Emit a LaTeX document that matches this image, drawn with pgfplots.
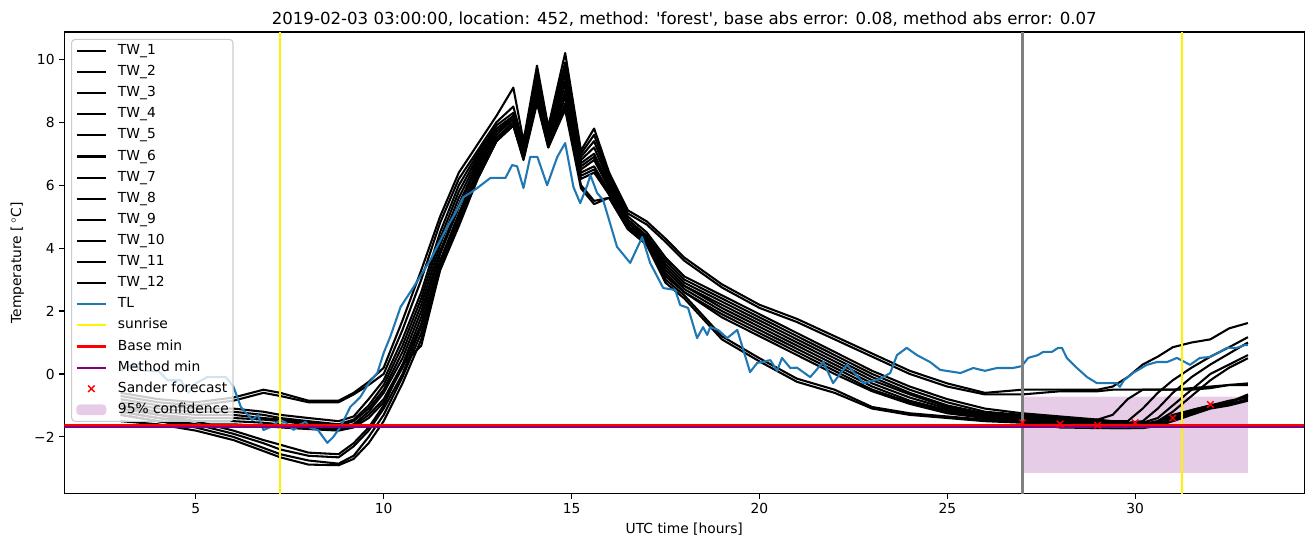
\documentclass[border=0pt]{standalone}
\usepackage{fontspec}
\setmainfont{DejaVu Sans}
\newfontfamily\dejavu{DejaVu Sans}
\usepackage{pgfplots}
\usepackage{pgfplotstable}
\pgfplotsset{compat=1.18}
\definecolor{tlblue}{RGB}{31,119,180}
\definecolor{mplpurple}{RGB}{128,0,128}
\definecolor{fillpurple}{RGB}{230,204,230}
\definecolor{legedge}{RGB}{204,204,204}
\definecolor{mplgrey}{RGB}{128,128,128}

\pgfplotstableread{
x     t1    t2    t3    t4    t5    t6    t7    t8    t9    t10   t11   t12
3     -0.6  -0.7  -0.8  -0.9  -1.0  -1.1  -1.2  -1.3  -1.0  -1.2  -1.3  -1.5
4     -0.8  -0.9  -1.0  -1.1  -1.2  -1.3  -1.4  -1.5  -1.3  -1.4  -1.5  -1.6
5     -0.9  -1.0  -1.1  -1.2  -1.3  -1.4  -1.5  -1.6  -1.5  -1.6  -1.7  -1.8
6     -0.75 -0.85 -1.1  -1.2  -1.3  -1.4  -1.5  -1.6  -1.8  -1.9  -2.0  -2.1
6.8   -0.5  -0.6  -1.2  -1.3  -1.4  -1.45 -1.55 -1.65 -2.1  -2.2  -2.35 -2.45
7.25  -0.6  -0.7  -1.3  -1.4  -1.45 -1.5  -1.6  -1.7  -2.25 -2.4  -2.55 -2.65
8     -0.85 -0.9  -1.4  -1.5  -1.55 -1.6  -1.7  -1.75 -2.5  -2.6  -2.75 -2.88
8.8   -0.85 -0.9  -1.5  -1.6  -1.65 -1.7  -1.75 -1.8  -2.55 -2.65 -2.85 -2.9
9.2   -0.6  -0.65 -1.35 -1.45 -1.5  -1.6  -1.65 -1.7  -2.2  -2.3  -2.6  -2.7
9.6   -0.25 -0.35 -0.8  -1.0  -1.1  -1.2  -1.3  -1.4  -1.7  -1.8  -2.0  -2.2
10    0.2   0.0   -0.2  -0.35 -0.5  -0.6  -0.8  -0.9  -1.0  -1.1  -1.3  -1.5
10.5  1.7   1.4   1.1   0.9   0.7   0.5   0.3   0.2   0.3   0.0   -0.1  -0.3
11    3.3   3.0   2.6   2.4   2.2   2.0   1.8   1.6   0.9   1.5   1.3   1.1
11.5  5.0   4.8   4.5   4.3   4.1   3.9   3.8   3.6   3.3   3.5   3.4   3.3
12    6.4   6.2   6.0   5.8   5.6   5.4   5.3   5.1   4.8   5.0   4.9   4.7
12.5  7.3   7.1   7.0   6.9   6.8   6.7   6.6   6.5   6.2   6.4   6.3   6.2
13    8.2   8.0   7.9   7.8   7.7   7.7   7.6   7.5   7.4   7.5   7.4   7.4
13.45 9.1   8.5   8.3   8.2   8.2   8.1   8.1   8.0   7.9   8.0   7.9   7.9
13.72 7.4   7.3   7.2   7.1   7.0   7.0   6.95  6.9   6.85  6.9   6.85  6.8
14.08 9.8   9.6   9.4   9.3   9.2   9.1   9.0   8.9   8.8   8.8   8.7   8.6
14.38 7.85  7.8   7.7   7.6   7.5   7.5   7.4   7.4   7.3   7.3   7.2   7.2
14.83 10.2  9.9   9.7   9.5   9.3   9.2   9.0   8.9   8.8   8.6   8.5   8.4
15.25 7.1   7.0   6.9   6.8   6.7   6.6   6.5   6.4   6.3   6.2   6.0   5.9
15.6  7.8   7.6   7.4   7.2   7.0   6.9   6.8   6.6   6.5   6.4   5.5   5.4
16    6.4   6.3   6.2   6.1   6.0   5.95  5.9   5.8   5.7   5.7   5.6   5.6
16.5  5.2   5.1   5.0   4.9   4.9   4.8   4.8   4.7   4.7   4.65  4.6   4.6
17    4.85  4.75  4.5   4.4   4.35  4.3   4.3   4.25  4.2   4.2   4.15  4.1
17.5  4.3   4.2   3.7   3.6   3.5   3.4   3.4   3.3   3.2   3.1   3.0   2.9
18    3.7   3.6   3.1   3.0   2.9   2.8   2.8   2.7   2.6   2.6   2.5   2.4
19    2.85  2.75  2.5   2.4   2.3   2.2   2.1   2.0   1.9   1.8   1.2   1.1
20    2.2   2.1   1.9   1.8   1.7   1.6   1.5   1.4   1.3   1.2   0.5   0.4
21    1.75  1.65  1.3   1.2   1.1   1.0   0.9   0.8   0.7   0.6   -0.15 -0.25
22    1.2   1.1   0.7   0.6   0.5   0.4   0.3   0.2   0.1   0.0   -0.5  -0.6
23    0.65  0.55  0.1   0.0   -0.1  -0.2  -0.3  -0.4  -0.5  -0.55 -1.05 -1.1
24    0.1   0.0   -0.4  -0.5  -0.6  -0.65 -0.75 -0.85 -0.9  -0.95 -1.25 -1.3
25    -0.3  -0.4  -0.8  -0.9  -1.0  -1.05 -1.1  -1.15 -1.2  -1.25 -1.35 -1.4
26    -0.6  -0.65 -1.1  -1.2  -1.25 -1.3  -1.3  -1.35 -1.4  -1.4  -1.45 -1.5
27    -0.5  -0.65 -1.25 -1.3  -1.35 -1.4  -1.4  -1.45 -1.45 -1.5  -1.5  -1.55
28    -0.5  -0.55 -1.35 -1.4  -1.45 -1.5  -1.45 -1.5  -1.55 -1.6  -1.65 -1.7
29    -0.5  -0.55 -1.45 -1.5  -1.55 -1.55 -1.45 -1.55 -1.6  -1.65 -1.7  -1.72
29.4  -0.4  -0.5  -1.5  -1.55 -1.6  -1.6  -1.3  -1.6  -1.65 -1.7  -1.72 -1.72
29.8  -0.1  -0.5  -1.5  -1.55 -1.6  -1.6  -0.8  -1.6  -1.65 -1.7  -1.72 -1.72
30.2  0.3   -0.5  -1.1  -1.5  -1.55 -1.6  -0.5  -1.6  -1.6  -1.65 -1.7  -1.72
30.6  0.55  -0.5  -0.6  -1.1  -1.4  -1.5  -0.5  -1.5  -1.55 -1.55 -1.6  -1.65
31    0.85  -0.5  -0.2  -0.6  -1.0  -1.2  -0.5  -1.3  -1.4  -1.35 -1.45 -1.5
31.5  1.0   -0.5  0.2   -0.1  -0.5  -0.7  -0.45 -1.15 -1.2  -1.15 -1.25 -1.3
32    1.1   -0.45 0.55  0.3   0.0   -0.2  -0.4  -1.0  -1.05 -1.0  -1.05 -1.1
32.5  1.45  -0.35 0.85  0.65  0.3   0.2   -0.35 -0.9  -0.9  -0.85 -0.95 -1.0
33    1.62  -0.3  1.17  1.0   0.6   0.5   -0.35 -0.65 -0.7  -0.75 -0.8  -0.85
}\twdata

\pgfplotstableread{
x y
3.0 0.1
3.3 0.3
3.6 0.1
4.0 0.1
4.25 -0.2
4.6 -0.2
4.8 -0.6
5.0 -0.3
5.3 -0.1
5.8 -0.1
6.0 -0.4
6.2 -1.05
6.5 -1.46
6.65 -1.3
6.8 -1.78
7.0 -1.68
7.25 -1.46
7.4 -1.55
7.6 -1.78
7.75 -1.62
7.92 -1.52
8.05 -1.72
8.25 -1.78
8.5 -2.19
8.66 -2.0
8.85 -1.68
9.11 -1.05
9.38 -0.73
9.6 -0.3
9.83 0.03
10.0 0.67
10.18 1.2
10.45 2.13
10.8 2.77
11.24 3.62
11.69 4.67
11.9 5.1
12.12 5.62
12.3 5.75
12.49 5.91
12.84 6.23
13.24 6.23
13.42 6.64
13.55 6.6
13.72 5.91
13.9 6.9
14.09 6.9
14.35 6.0
14.62 6.9
14.83 7.34
15.05 5.94
15.23 5.43
15.42 6.0
15.5 6.32
15.68 5.75
15.84 5.53
16.21 4.04
16.56 3.53
16.88 4.35
17.09 3.53
17.44 2.73
17.76 2.67
17.89 2.19
18.10 2.1
18.34 1.14
18.50 1.49
18.61 1.24
18.69 1.49
18.9 1.4
19.14 1.14
19.41 1.4
19.75 0.06
19.94 0.35
20.29 0.44
20.47 0.1
20.60 0.51
20.82 0.19
21.0 0.2
21.35 -0.1
21.70 0.38
21.96 -0.29
22.33 0.29
22.77 -0.29
23.13 -0.19
23.29 -0.1
23.48 0.03
23.66 0.6
23.92 0.83
24.19 0.6
24.54 0.38
24.81 0.13
25.35 0.03
25.69 0.19
26.0 0.1
26.32 0.19
26.75 0.19
26.98 0.25
27.15 0.51
27.41 0.6
27.55 0.7
27.78 0.7
27.95 0.83
28.05 0.83
28.18 0.51
28.45 0.19
28.72 -0.1
28.98 -0.29
29.51 -0.29
29.59 -0.41
29.7 -0.2
29.94 0.03
30.31 0.29
30.58 0.38
30.85 0.38
31.11 0.51
31.46 0.29
31.72 0.51
31.99 0.54
32.25 0.7
32.44 0.83
32.70 0.83
32.92 0.92
33.0 0.92
}\tldata

\begin{document}
\begin{tikzpicture}
\useasboundingbox (-46.47pt,-38.3pt) rectangle (902.5pt,357.0pt);
\begin{axis}[
  scale only axis, width=896.2pt, height=333.9pt,
  xmin=1.5, xmax=34.5, ymin=-3.813, ymax=10.87,
  xtick={5,10,15,20,25,30}, xticklabels={5,10,15,20,25,30},
  ytick={-2,0,2,4,6,8,10}, yticklabels={−2,0,2,4,6,8,10},
  xtick pos=bottom, ytick pos=left, tick align=outside,
  major tick length=3.5pt,
  tick style={black, line width=0.8pt},
  axis line style={line width=0.8pt},
  ticklabel style={font=\fontsize{10}{12}\selectfont},
  title={\dejavu 2019-02-03 03:00:00, location: 452, method: 'forest', base abs error: 0.08, method abs error: 0.07},
  title style={at={(axis description cs:0.5,1)}, anchor=base, yshift=-0.5pt, inner sep=0pt, font=\fontsize{12}{14}\selectfont},
  xlabel={UTC time [hours]},
  xlabel style={at={(axis description cs:0.5,0)}, anchor=base, yshift=-28.9pt, inner sep=0pt, font=\fontsize{10}{12}\selectfont},
  ylabel={Temperature [\,$^\circ$C]},
  ylabel style={at={(axis description cs:-0.0349,0.5)}, anchor=base, inner sep=0pt, font=\fontsize{10}{12}\selectfont},
  legend image code/.code={\draw[mark repeat=2,mark phase=2,#1] plot coordinates {(0pt,0pt) (10.5pt,0pt) (21pt,0pt)};},
  legend cell align=left,
  legend style={at={(axis description cs:0,1)}, anchor=north west, xshift=4.9pt, yshift=-5pt,
    draw=legedge, line width=0.8pt, fill=white, fill opacity=0.8, draw opacity=1, text opacity=1,
    rounded corners=2.5pt, inner xsep=3pt, inner ysep=3.3pt, row sep=5.26pt, column sep=8pt,
    font=\fontsize{10}{12}\selectfont,
    nodes={inner sep=0pt, text height=7.6pt, text depth=2.4pt}},
]
% confidence area
\addplot[fill=fillpurple, draw=none, forget plot] coordinates {(27,-3.14) (33,-3.14) (33,-0.72) (27,-0.72) (27,-3.14)};
% TW lines
\pgfplotsinvokeforeach{1,...,12}{
  \addplot[black, line width=1.5pt, line join=round, forget plot] table[x=x, y=t#1] {\twdata};
}
% TL
\addplot[tlblue, line width=1.5pt, line join=round, forget plot] table[x=x, y=y] {\tldata};
% sunrise
\addplot[yellow, line width=1.5pt, forget plot] coordinates {(7.25,-3.813) (7.25,10.87)};
\addplot[yellow, line width=1.5pt, forget plot] coordinates {(31.25,-3.813) (31.25,10.87)};
% forecast time
\addplot[mplgrey, line width=1.5pt, forget plot] coordinates {(27,-3.813) (27,10.87)};
% method min and base min
\addplot[mplpurple, line width=1.5pt, forget plot] coordinates {(1.5,-1.67) (34.5,-1.67)};
\addplot[red, line width=1.5pt, forget plot] coordinates {(1.5,-1.615) (34.5,-1.615)};
% Sander forecast
\addplot[only marks, mark=x, red, mark size=3.3pt, mark options={line width=1pt}, forget plot] coordinates {(27,-1.55) (28,-1.59) (29,-1.63) (30,-1.55) (31,-1.40) (32,-0.97)};
% legend
\addlegendimage{black, line width=1.5pt}\addlegendentry{TW\_1}
\addlegendimage{black, line width=1.5pt}\addlegendentry{TW\_2}
\addlegendimage{black, line width=1.5pt}\addlegendentry{TW\_3}
\addlegendimage{black, line width=1.5pt}\addlegendentry{TW\_4}
\addlegendimage{black, line width=1.5pt}\addlegendentry{TW\_5}
\addlegendimage{black, line width=1.5pt}\addlegendentry{TW\_6}
\addlegendimage{black, line width=1.5pt}\addlegendentry{TW\_7}
\addlegendimage{black, line width=1.5pt}\addlegendentry{TW\_8}
\addlegendimage{black, line width=1.5pt}\addlegendentry{TW\_9}
\addlegendimage{black, line width=1.5pt}\addlegendentry{TW\_10}
\addlegendimage{black, line width=1.5pt}\addlegendentry{TW\_11}
\addlegendimage{black, line width=1.5pt}\addlegendentry{TW\_12}
\addlegendimage{tlblue, line width=1.5pt}\addlegendentry{TL}
\addlegendimage{yellow, line width=1.5pt}\addlegendentry{sunrise}
\addlegendimage{red, line width=1.5pt}\addlegendentry{Base min}
\addlegendimage{mplpurple, line width=1.5pt}\addlegendentry{Method min}
\addlegendimage{only marks, mark=x, red, mark size=3.3pt, mark options={line width=1pt}}\addlegendentry{Sander forecast}
\addlegendimage{legend image code/.code={\fill[fillpurple, fill opacity=1] (0pt,-3.5pt) rectangle (21pt,3.5pt);}}\addlegendentry{95\% confidence}
\end{axis}
\end{tikzpicture}
\end{document}
